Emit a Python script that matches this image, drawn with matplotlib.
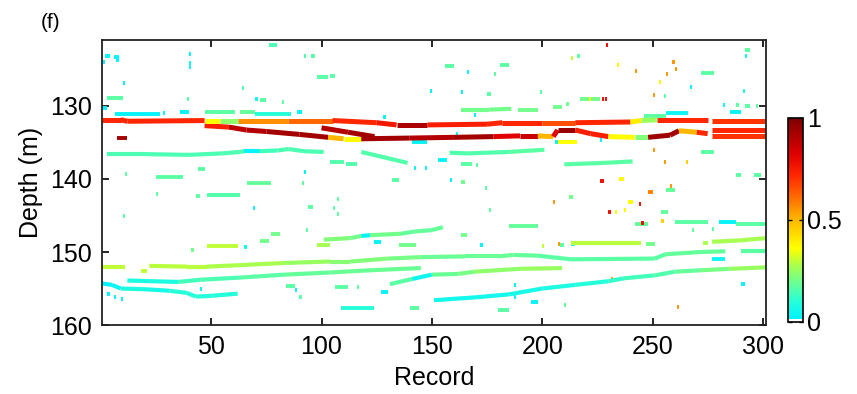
import numpy as np
import matplotlib
matplotlib.use('Agg')
import matplotlib.pyplot as plt
from matplotlib.collections import LineCollection
from matplotlib.colors import LinearSegmentedColormap, Normalize
from matplotlib.cm import ScalarMappable

plt.rcParams['font.family'] = ['Liberation Sans', 'DejaVu Sans']

# ---- traced layers: record knots, depth knots (m), value per segment ----
top_rec = [0.5, 9, 12, 47, 54, 62, 85, 105, 125, 134, 148, 175, 182, 200, 215, 240, 245, 252, 275]
top_depth = [131.9, 131.9, 132.1, 132.0, 132.0, 132.0, 132.0, 132.0, 132.3, 132.6, 132.6, 132.5,
             132.3, 132.3, 132.3, 132.2, 132.0, 131.9, 131.9]
top_val = [0.72, 0.72, 0.72, 0.36, 0.24, 0.56, 0.62, 0.72, 0.76, 0.92, 0.74, 0.72, 0.72, 0.66,
           0.72, 0.40, 0.25, 0.72]
top2_rec = [277, 301.5]
top2_depth = [132.0, 132.0]
top2_val = [0.70]

low_rec = [47, 58, 66, 75, 90, 103, 110, 118, 140, 160, 178, 190, 198, 205, 207, 215, 222, 230,
           242, 248, 258, 262, 270, 275]
low_depth = [132.7, 132.9, 133.3, 133.5, 133.9, 134.3, 134.5, 134.5, 134.4, 134.3, 134.2, 134.1,
             134.1, 134.2, 133.3, 133.3, 133.8, 134.2, 134.3, 134.3, 134.0, 133.4, 133.6, 133.8]
low_val = [0.74, 0.88, 0.90, 0.93, 0.93, 0.50, 0.36, 0.93, 0.90, 0.93, 0.82, 0.86, 0.50, 0.82,
           0.95, 0.74, 0.74, 0.37, 0.22, 0.94, 0.93, 0.50, 0.72]
low2_rec = [277, 301.5]
low2_depth = [133.3, 133.3]
low2_val = [0.72]
low3_rec = [277, 301.5]
low3_depth = [134.1, 134.1]
low3_val = [0.70]
cross_rec = [100, 112, 124]
cross_depth = [133.0, 133.6, 134.2]
cross_val = [0.90, 0.93]

g136_rec = [3, 20, 40, 55, 63, 65, 72, 80, 85, 92, 101]
g136_depth = [136.6, 136.6, 136.7, 136.5, 136.3, 136.2, 136.2, 136.1, 135.9, 136.2, 136.3]
g136_val = [0.15, 0.15, 0.15, 0.15, 0.15, 0.03, 0.14, 0.15, 0.15, 0.15]
g136b_rec = [118, 139]
g136b_depth = [136.3, 137.8]
g136b_val = [0.16]
g136c_rec = [158, 166, 185, 201]
g136c_depth = [136.4, 136.5, 136.3, 136.0]
g136c_val = [0.16, 0.16, 0.17]
g138_rec = [210, 228, 241]
g138_depth = [138.0, 137.8, 137.6]
g138_val = [0.17, 0.17]
g130_rec = [163, 176, 186]
g130_depth = [130.5, 130.5, 130.4]
g130_val = [0.2, 0.2]

yg_a_rec = [0.5, 11]
yg_a_depth = [152.0, 152.0]
yg_a_val = [0.30]
yg_c_rec = [22, 39, 48, 63, 83, 104, 113, 130, 145, 165, 180, 187, 198, 213, 251, 256, 272, 283]
yg_c_depth = [151.9, 152.0, 152.0, 151.8, 151.5, 151.3, 151.3, 150.9, 150.7, 150.6, 150.6, 150.4,
              150.5, 151.0, 150.9, 150.3, 150.0, 149.9]
yg_c_val = [0.29, 0.29, 0.28, 0.27, 0.25, 0.23, 0.22, 0.21, 0.19, 0.19, 0.19, 0.18, 0.17, 0.17,
            0.17, 0.18, 0.18]
yg_d_rec = [290, 301.5]
yg_d_depth = [149.8, 149.8]
yg_d_val = [0.17]

mid_rec = [12, 35, 45, 63, 83, 104, 122, 145]
mid_depth = [153.9, 154.1, 153.8, 153.5, 153.1, 152.8, 152.5, 152.2]
mid_val = [0.08, 0.14, 0.15, 0.17, 0.18, 0.19, 0.19]

rise_rec = [131, 141, 150, 162, 169, 190, 209]
rise_depth = [154.4, 153.7, 153.1, 153.0, 152.7, 152.3, 152.2]
rise_val = [0.17, 0.05, 0.19, 0.21, 0.24, 0.25]

cbot_rec = [0.5, 5, 9, 20, 31, 39, 43, 50, 62]
cbot_depth = [154.3, 154.5, 155.0, 155.1, 155.3, 155.6, 156.1, 156.0, 155.7]
cbot_val = [0.02, 0.04, 0.08, 0.07, 0.10, 0.10, 0.10, 0.10]

long_rec = [151, 170, 185, 200, 215, 230, 237, 251, 260, 272, 285, 301.5]
long_depth = [156.6, 156.2, 155.8, 155.0, 154.5, 154.0, 153.6, 153.2, 152.7, 152.5, 152.3, 152.1]
long_val = [0.06, 0.06, 0.07, 0.08, 0.1, 0.12, 0.14, 0.16, 0.18, 0.21, 0.25]

r148_rec = [101, 113, 118, 122, 136, 142, 150, 155]
r148_depth = [148.3, 148.1, 147.8, 147.7, 147.5, 147.2, 147.0, 146.6]
r148_val = [0.22, 0.20, 0.03, 0.20, 0.18, 0.18, 0.18]

y148_rec = [213, 245]
y148_depth = [148.8, 148.8]
y148_val = [0.29]
y148b_rec = [277, 290, 301.5]
y148b_depth = [148.6, 148.4, 148.1]
y148b_val = [0.27, 0.27]

# ---- short patches: (first record, last record, depth, value) ----
specks_upper = [
    (2, 4, 123.1, 0.03), (6, 8, 123.3, 0.03), (1, 2, 124.0, 0.03), (7, 8, 123.7, 0.03),
    (40, 41, 122.9, 0.03), (76, 80, 121.7, 0.15), (92, 93, 123.2, 0.15), (95, 97, 123.1, 0.17),
    (40, 41, 124.1, 0.05), (40, 41, 124.7, 0.05), (10, 11, 126.8, 0.03), (98, 103, 126.0, 0.17),
    (104, 106, 125.9, 0.17), (64, 65, 127.5, 0.15), (3, 10, 128.9, 0.17), (39, 40, 129.1, 0.17),
    (72, 75, 129.2, 0.17), (82, 83, 129.5, 0.17), (70, 71, 129.0, 0.05), (1, 3, 130.3, 0.03),
    (229, 230, 121.7, 0.78), (216, 217, 123.1, 0.17), (213, 214, 123.4, 0.3),
    (156, 160, 124.6, 0.17), (181, 185, 124.4, 0.17), (166, 167, 125.4, 0.03),
    (178, 179, 125.6, 0.17), (234, 235, 124.4, 0.37), (242, 243, 125.2, 0.55),
    (259, 260, 124.0, 0.55), (260, 261, 124.9, 0.55), (256, 257, 125.6, 0.55),
    (253, 254, 126.7, 0.37), (250, 251, 128.5, 0.55), (255, 256, 128.6, 0.17),
    (272, 278, 125.5, 0.17), (292, 294, 122.4, 0.17), (292, 293, 123.1, 0.05),
    (291, 292, 128.0, 0.1), (267, 268, 127.4, 0.03), (149, 150, 128.0, 0.03),
    (163, 164, 128.1, 0.03), (175, 177, 128.4, 0.17), (199, 200, 128.1, 0.17),
    (217, 226, 129.0, 0.2), (221, 222, 129.0, 0.36), (227, 228, 129.0, 0.78),
    (228.5, 229.5, 129.0, 0.78), (169, 170, 131.3, 0.03), (282, 283, 129.9, 0.05),
    (288, 289, 129.9, 0.17), (292, 294, 130.0, 0.17), (297, 298, 130.0, 0.17),
    (285, 290, 130.8, 0.03), (128, 129, 131.5, 0.03),
    (189, 198, 130.5, 0.2), (205, 209, 130.1, 0.2), (211, 212, 129.7, 0.2),
    (6.5, 27, 131.1, 0.03), (28, 29, 131.0, 0.03), (36, 40, 130.9, 0.03), (47, 61, 130.9, 0.17),
    (63, 70, 130.8, 0.18), (70, 86, 131.1, 0.1), (89, 91, 130.9, 0.03),
    (246, 256, 131.4, 0.17), (256, 266, 131.0, 0.04),
]
specks_middle = [
    (7.5, 12, 134.4, 0.93), (141, 148, 134.9, 0.03), (161, 162, 133.9, 0.03),
    (206, 207, 135.0, 0.03), (207, 216, 134.9, 0.36), (226, 227, 134.7, 0.03),
    (104, 110, 137.7, 0.16), (111, 116, 138.0, 0.16), (142, 143, 138.5, 0.03),
    (153, 157, 137.4, 0.03), (163, 168, 138.0, 0.17), (170, 171, 138.1, 0.17),
    (147, 148, 138.5, 0.03), (272, 278, 136.3, 0.17), (250, 251, 136.0, 0.55),
    (255, 256, 137.7, 0.55), (265, 266, 137.7, 0.45), (288, 290, 139.4, 0.17),
    (296, 299, 139.4, 0.17), (44, 47, 138.6, 0.17), (92, 93, 139.0, 0.03), (11, 12, 139.3, 0.17),
    (25, 37, 139.7, 0.17), (66, 77, 140.6, 0.18), (132, 135, 140.1, 0.17), (91, 92, 140.6, 0.17),
    (48, 63, 142.2, 0.16), (43, 45, 142.3, 0.17), (25, 26, 142.0, 0.17), (10, 11, 145.1, 0.17),
    (69, 70, 144.0, 0.03), (107, 108, 142.7, 0.17), (105, 106, 144.0, 0.17),
    (107, 108, 144.8, 0.17), (94, 96, 143.8, 0.17), (163, 165, 140.4, 0.2),
    (158, 159, 140.2, 0.03), (174, 175, 141.2, 0.17), (176, 177, 144.3, 0.17),
    (226, 228, 140.3, 0.78), (235, 237, 140.0, 0.37), (248, 250, 141.8, 0.58),
    (258, 259, 140.9, 0.55), (256, 260, 141.5, 0.18), (212, 214, 142.5, 0.2),
    (239, 241, 143.2, 0.37), (244, 245, 143.4, 0.78), (205, 206, 143.2, 0.55),
    (230, 231, 144.5, 0.78), (233, 234, 144.5, 0.37), (237, 238, 144.3, 0.37),
    (242, 248, 146.2, 0.18), (245, 246, 146.0, 0.78), (254, 257, 144.5, 0.18),
    (254, 255, 145.8, 0.45), (260, 275, 145.9, 0.17), (280, 288, 145.9, 0.03),
    (288, 301.5, 146.2, 0.17), (185, 198, 146.4, 0.18), (163, 166, 147.7, 0.2),
    (268, 269, 147.0, 0.17), (277, 278, 146.8, 0.17),
]
specks_lower = [
    (48, 62, 149.2, 0.3), (72, 76, 148.5, 0.2), (77, 81, 147.6, 0.2), (98, 104, 149.0, 0.27),
    (135, 143, 149.0, 0.2), (124, 127, 148.6, 0.03), (41, 42, 149.7, 0.2), (65, 66, 149.3, 0.05),
    (93, 94, 147.0, 0.17), (172, 173, 149.0, 0.03), (200, 201, 149.2, 0.3),
    (207, 208, 148.9, 0.55), (208, 210, 149.1, 0.17), (213, 215, 148.9, 0.05),
    (247, 251, 148.9, 0.2), (273, 275, 148.8, 0.27), (18, 21, 152.6, 0.3),
    (277, 283, 150.9, 0.04), (109, 124, 157.6, 0.1), (140, 144, 157.6, 0.17),
    (180, 185, 157.9, 0.17), (106, 112, 154.8, 0.17), (116, 117, 154.8, 0.17),
    (127, 130, 155.5, 0.03), (84, 88, 154.7, 0.17), (88, 89, 155.2, 0.03), (90, 91, 156.1, 0.17),
    (3, 4, 155.8, 0.03), (6, 7, 156.1, 0.03), (9, 10, 156.4, 0.03), (45, 46, 155.0, 0.03),
    (210, 211, 157.3, 0.17), (195, 198, 156.9, 0.03), (187, 188, 156.2, 0.03),
    (187, 188, 154.5, 0.03), (290, 292, 154.4, 0.03), (261, 262, 157.5, 0.55),
    (231, 232, 153.7, 0.55),
]

cbar_ticks = [0, 0.5, 1]
cbar_labels = ['0', '0.5', '1']
x_ticks = [50, 100, 150, 200, 250, 300]
y_ticks = [130, 140, 150, 160]

# colour scale (white at the very bottom)
cmap = LinearSegmentedColormap.from_list('amp', [
    (0.0, (1, 1, 1)), (0.012, (1, 1, 1)), (0.013, (0.0, 0.95, 1.0)),
    (0.1, (0.15, 1.0, 0.85)), (0.2, (0.45, 1.0, 0.55)), (0.28, (0.68, 1.0, 0.28)),
    (0.36, (1.0, 1.0, 0.0)), (0.5, (1.0, 0.72, 0.0)), (0.6, (1.0, 0.45, 0.0)),
    (0.72, (1.0, 0.15, 0.0)), (0.82, (0.88, 0.0, 0.0)), (1.0, (0.5, 0.0, 0.0))], N=256)
norm = Normalize(0, 1)


def trace_segs(recs, depths):
    pts = np.column_stack([recs, depths])
    return np.stack([pts[:-1], pts[1:]], axis=1)


fig = plt.figure(figsize=(8.57, 3.94), dpi=100)
ax = fig.add_axes([0.119, 0.175, 0.775, 0.723])

# short patches first
for group in (specks_upper, specks_middle, specks_lower):
    segs = [[(r0, d), (r1, d)] for r0, r1, d, v in group]
    vals = [v for r0, r1, d, v in group]
    lc = LineCollection(segs, cmap=cmap, norm=norm, linewidths=2.8, capstyle='butt')
    lc.set_array(np.array(vals))
    ax.add_collection(lc)

thin_traces = [
    (g136_rec, g136_depth, g136_val), (g136b_rec, g136b_depth, g136b_val),
    (g136c_rec, g136c_depth, g136c_val), (g138_rec, g138_depth, g138_val),
    (g130_rec, g130_depth, g130_val), (yg_a_rec, yg_a_depth, yg_a_val),
    (yg_c_rec, yg_c_depth, yg_c_val), (yg_d_rec, yg_d_depth, yg_d_val),
    (mid_rec, mid_depth, mid_val), (rise_rec, rise_depth, rise_val),
    (cbot_rec, cbot_depth, cbot_val), (long_rec, long_depth, long_val),
    (r148_rec, r148_depth, r148_val), (y148_rec, y148_depth, y148_val),
    (y148b_rec, y148b_depth, y148b_val),
]
red_traces = [
    (cross_rec, cross_depth, cross_val), (low_rec, low_depth, low_val),
    (low2_rec, low2_depth, low2_val), (low3_rec, low3_depth, low3_val),
    (top_rec, top_depth, top_val), (top2_rec, top2_depth, top2_val),
]
for traces, lw in ((thin_traces, 3.0), (red_traces, 3.6)):
    for recs, depths, vals in traces:
        lc = LineCollection(trace_segs(recs, depths), cmap=cmap, norm=norm,
                            linewidths=lw, capstyle='butt', joinstyle='miter')
        lc.set_array(np.array(vals))
        ax.add_collection(lc)

ax.set_xlim(0.5, 301.5)
ax.set_ylim(160, 121)
ax.set_xticks(x_ticks)
ax.set_yticks(y_ticks)
ax.tick_params(direction='in', top=True, right=True, length=5, width=1.2,
               labelsize=18, pad=7)
for s in ax.spines.values():
    s.set_linewidth(1.3)
    s.set_color('#222222')
ax.set_xlabel('Record', fontsize=18, labelpad=5)
ax.set_ylabel('Depth (m)', fontsize=18, labelpad=5)
fig.text(0.047, 0.93, '(f)', fontsize=15)

cax = fig.add_axes([0.9195, 0.183, 0.0175, 0.518])
cb = fig.colorbar(ScalarMappable(norm=norm, cmap=cmap), cax=cax, ticks=cbar_ticks)
cb.ax.set_yticklabels(cbar_labels)
cb.ax.tick_params(direction='in', left=True, right=True, length=3, width=1,
                  labelsize=18, pad=3)
cb.outline.set_linewidth(1.2)

fig.savefig('out.png', dpi=100)
